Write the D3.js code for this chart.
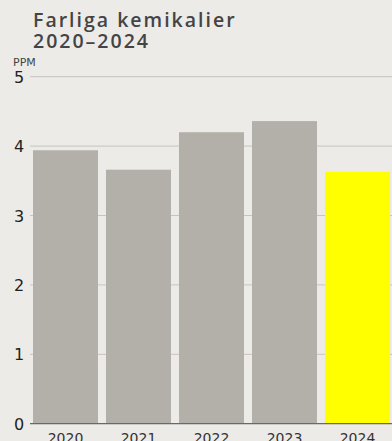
<!DOCTYPE html>
<html><head><meta charset="utf-8">
<script src="https://cdn.jsdelivr.net/npm/d3@7"></script>
<style>
html,body{margin:0;padding:0;background:#edebe7;}
svg{display:block;}
</style></head>
<body>
<script>
const categories = ["2020","2021","2022","2023","2024"];
const values = [3.94, 3.66, 4.2, 4.36, 3.63];
const yTicks = [0,1,2,3,4,5];
const highlight = "2024";

const W = 392, H = 441;
const svg = d3.select("body").append("svg").attr("width", W).attr("height", H)
  .style("background", "#edebe7");
const font = "'DejaVu Sans', sans-serif";
const tfont = "'Open Sans', sans-serif";

const x = d3.scaleBand().domain(categories).range([29, 394]).paddingInner(0.11).paddingOuter(0.055);
const y = d3.scaleLinear().domain([0,5]).range([423.7, 76.7]);

svg.append("text").attr("x", 33).attr("y", 27).text("Farliga kemikalier")
  .attr("font-family", tfont).attr("font-size", 19.5).attr("font-weight", 600).attr("fill", "#444").attr("letter-spacing", 2);
svg.append("text").attr("x", 33).attr("y", 48).text("2020–2024")
  .attr("font-family", tfont).attr("font-size", 19.5).attr("font-weight", 600).attr("fill", "#444").attr("letter-spacing", 2);
svg.append("text").attr("x", 13).attr("y", 66).text("PPM")
  .attr("font-family", font).attr("font-size", 11).attr("fill", "#444");

// grid
svg.append("g").selectAll("line").data(yTicks.filter(d=>d>0)).join("line")
  .attr("x1", 30).attr("x2", W).attr("y1", d=>y(d)).attr("y2", d=>y(d))
  .attr("stroke", "#c6c4c0").attr("stroke-width", 1);

svg.append("g").selectAll("text").data(yTicks).join("text")
  .attr("x", 14).attr("y", d=>y(d)+6).text(d=>d)
  .attr("font-family", font).attr("font-size", 16).attr("fill", "#222");

svg.append("g").selectAll("rect").data(categories).join("rect")
  .attr("x", d=>x(d)).attr("width", x.bandwidth())
  .attr("y", (d,i)=>y(values[i])).attr("height", (d,i)=>y(0)-y(values[i]))
  .attr("fill", d=> d===highlight ? "#ffff00" : "#b3afa9");

svg.append("line").attr("x1", 30).attr("x2", W).attr("y1", y(0)).attr("y2", y(0))
  .attr("stroke", "#6b6966").attr("stroke-width", 1.2);

svg.append("g").selectAll("text").data(categories).join("text")
  .attr("x", d=>x(d)+x.bandwidth()/2).attr("y", 443).attr("text-anchor", "middle").text(d=>d)
  .attr("font-family", font).attr("font-size", 14).attr("fill", "#333");
</script>
</body></html>
